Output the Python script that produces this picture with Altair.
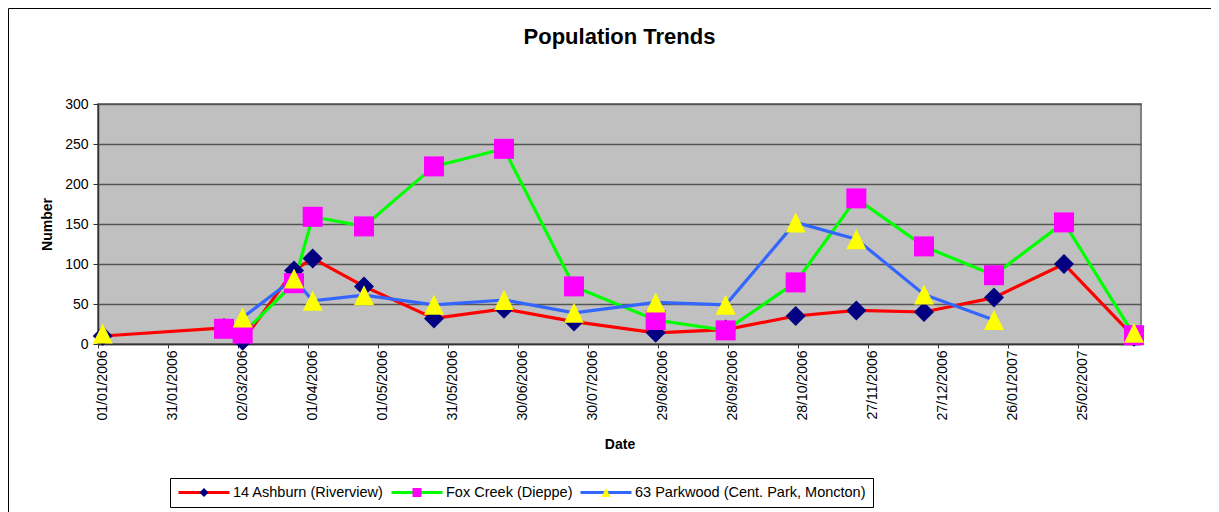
import altair as alt
import pandas as pd

# ---- data ----
dates = ["2006-01-03", "2006-02-24", "2006-03-04", "2006-03-26", "2006-04-03", "2006-04-25",
         "2006-05-25", "2006-06-24", "2006-07-24", "2006-08-28", "2006-09-27", "2006-10-27",
         "2006-11-22", "2006-12-21", "2007-01-20", "2007-02-19", "2007-03-21"]
ashburn = [10, 20, 4, 92, 107, 72, 32, 44, 28, 14, 18, 35, 42, 40, 58, 100, 9]
fox_creek = [None, 19, 13, 76, 159, 147, 222, 244, 72, 30, 17, 77, 182, 122, 86, 152, 11]
parkwood = [13, None, 33, 82, 54, 61, 49, 55, 39, 52, 49, 152, 131, 62, 30, None, 14]

series_names = ["14 Ashburn (Riverview)", "Fox Creek (Dieppe)", "63 Parkwood (Cent. Park, Moncton)"]
line_colors = ["#FF0000", "#00FF00", "#3366FF"]
marker_colors = ["#000080", "#FF00FF", "#FFFF00"]
# marker outlines drawn small inside the symbol box, so that legend entries of the
# marker legend have exactly the same width as the line legend entries
K = 1 / 6
marker_shapes = [
    f"M0,{-K}L{K},0L0,{K}L{-K},0Z",
    f"M{-K},{-K}H{K}V{K}H{-K}Z",
    f"M0,{-K}L{K},{K}H{-K}Z",
]

tick_dates = [(2006, 1, 1), (2006, 1, 31), (2006, 3, 2), (2006, 4, 1), (2006, 5, 1), (2006, 5, 31),
              (2006, 6, 30), (2006, 7, 30), (2006, 8, 29), (2006, 9, 28), (2006, 10, 28),
              (2006, 11, 27), (2006, 12, 27), (2007, 1, 26), (2007, 2, 25)]
domain_dates = [(2006, 1, 1), (2007, 3, 24)]
y_ticks = [0, 50, 100, 150, 200, 250, 300]

FONT = "Liberation Sans"


def dt(t):
    return alt.DateTime(year=t[0], month=t[1], date=t[2], utc=True)


rows = []
for name, vals in zip(series_names, [ashburn, fox_creek, parkwood]):
    seg = 0
    for d, v in zip(dates, vals):
        if v is None:
            seg += 1
            continue
        rows.append({"date": d, "value": v, "series": name, "marker": name,
                     "seg": f"{name}-{seg}"})
df = pd.DataFrame(rows)

x_enc = alt.X(
    "date:T", title="Date",
    scale=alt.Scale(type="utc", domain=[dt(domain_dates[0]), dt(domain_dates[1])]),
    axis=alt.Axis(values=[dt(t) for t in tick_dates], format="%d/%m/%Y", labelAngle=270,
                  labelOffset=4, labelPadding=2, tickSize=4, grid=False, labelFontSize=14,
                  titleFontSize=14, titleFontWeight="bold", titlePadding=17),
)
y_enc = alt.Y(
    "value:Q", title="Number", scale=alt.Scale(domain=[0, 300]),
    axis=alt.Axis(values=y_ticks, grid=True, gridColor="#555555", gridWidth=1.5, tickSize=5,
                  labelPadding=5, labelFontSize=14, titleFontSize=14, titleFontWeight="bold",
                  titlePadding=10),
)

common_leg = dict(title=None, orient="none", legendX=72, legendY=374, direction="horizontal",
                  clipHeight=15, labelFont=FONT, labelFontSize=14.5, labelOffset=2,
                  labelLimit=400, columnPadding=6, padding=7)
leg_lines = alt.Legend(symbolType="stroke", symbolSize=2601, symbolStrokeWidth=3,
                       labelColor="black", strokeColor="black", **common_leg)
leg_markers = alt.Legend(symbolSize=2916, symbolStrokeWidth=0, labelOpacity=0, **common_leg)

frame = alt.Chart(pd.DataFrame({"f": [0]})).mark_rect(
    fill="transparent", stroke="black", strokeWidth=1
).encode(x=alt.value(-89.5), x2=alt.value(1300), y=alt.value(-95.5), y2=alt.value(700))

lines = alt.Chart(df).mark_line(strokeWidth=3.2).encode(
    x=x_enc, y=y_enc,
    color=alt.Color("series:N", sort=series_names, scale=alt.Scale(range=line_colors),
                    legend=leg_lines),
    detail="seg:N",
)

points = alt.Chart(df).mark_point(filled=True, size=14400, opacity=1, strokeWidth=0).encode(
    x=x_enc, y=y_enc,
    fill=alt.Fill("marker:N", scale=alt.Scale(domain=series_names, range=marker_colors),
                  legend=leg_markers),
    shape=alt.Shape("marker:N", scale=alt.Scale(domain=series_names, range=marker_shapes),
                    legend=leg_markers),
)

chart = alt.layer(frame, lines, points).properties(
    width=1043, height=240,
    title=alt.Title("Population Trends", fontSize=22, font=FONT, fontWeight="bold",
                    anchor="middle", frame="group", baseline="alphabetic", offset=-58,
                    color="black"),
    autosize=alt.AutoSizeParams(type="none"),
    padding={"left": 90, "top": 96, "right": 70, "bottom": 172},
).configure_view(
    fill="#C0C0C0", stroke="#808080", strokeWidth=2
).configure_axis(
    labelFont=FONT, titleFont=FONT, labelColor="black", titleColor="black",
    domainColor="#333333", tickColor="#333333", domainWidth=1.5,
)

chart.save("out.html", embed_options={"renderer": "svg", "actions": False})
